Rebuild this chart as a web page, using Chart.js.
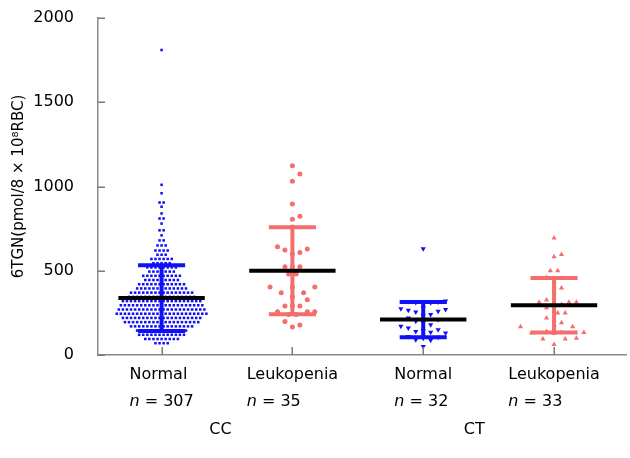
<!DOCTYPE html>
<html>
<head>
<meta charset="utf-8">
<script src="https://cdn.jsdelivr.net/npm/chart.js@4/dist/chart.umd.min.js"></script>
<style>
  html, body { margin: 0; padding: 0; background: #fff; }
  #wrap { width: 630px; height: 458px; }
</style>
</head>
<body>
<div id="wrap"><canvas id="chart"></canvas></div>
<script>
const groups = ['Normal', 'Leukopenia', 'Normal', 'Leukopenia'];
const nLabels = [307, 35, 32, 33];
const genotypes = ['CC', 'CT'];
const genotypePos = [1.45, 3.39];
const yTicks = [0, 500, 1000, 1500, 2000];

const means = [338, 500, 210, 295];
const sds = [195, 258, 105, 162];

// CC normal read as rows of the swarm: [value, number of dots]
const ccNormalRows = [
  [70, 4], [95, 9], [120, 12], [145, 13], [170, 16], [195, 19], [220, 20],
  [245, 23], [270, 22], [295, 21], [320, 20], [345, 17], [370, 16], [395, 13],
  [420, 12], [445, 9], [470, 10], [495, 7], [520, 8], [545, 5], [570, 6],
  [595, 3], [620, 4], [650, 3], [680, 2], [710, 1], [740, 2], [780, 1],
  [810, 2], [840, 1], [880, 1], [905, 2], [960, 1], [1010, 1], [1810, 1]
];
const ccLeuk = [1123, 1074, 1031, 896, 823, 805, 760, 643, 629, 623, 609, 601,
  524, 524, 524, 481, 481, 404, 404, 404, 370, 370, 346, 328, 291, 291, 291,
  257, 257, 257, 240, 240, 199, 178, 166];
const ctNormal = [630, 320, 318, 315, 312, 310, 280, 275, 270, 265, 260, 255,
  240, 235, 220, 210, 200, 190, 180, 170, 160, 150, 145, 140, 135, 130, 110,
  105, 100, 90, 88, 50];
const ctLeuk = [694, 597, 583, 500, 500, 460, 455, 433, 397, 376, 326, 313,
  313, 313, 300, 290, 280, 249, 249, 220, 192, 178, 168, 168, 140, 135, 133,
  130, 128, 100, 95, 95, 63];

const blue = '#1010f8';
const pink = '#f56e6e';
const colors = [blue, pink, blue, pink];

const ccNormal = ccNormalRows.flatMap(([v, n]) => Array(n).fill(v));

// approximate pixels per unit, used only to spread the dots sideways
const PX_X = 131.7, PX_Y = 0.1685;

function swarm(values, center, d) {
  const placed = [];
  const same = {};
  values.forEach(v => { same[v] = (same[v] || 0) + 1; });
  return values.slice().sort((a, b) => a - b).map(v => {
    const py = v * PX_Y;
    const even = same[v] % 2 === 0;
    let px = 0;
    for (let i = 0; i < 600; i++) {
      const k = even ? (2 * Math.floor(i / 2) + 1) : (i === 0 ? 0 : Math.ceil(i / 2) * 2);
      const sign = even ? (i % 2 ? -1 : 1) : (i % 2 ? 1 : -1);
      const off = sign * k * d / 2;
      if (placed.every(p => (p[0] - off) ** 2 + (p[1] - py) ** 2 >= d * d - 0.01)) { px = off; break; }
    }
    placed.push([px, py]);
    return { x: center + px / PX_X, y: v };
  });
}

const pointSets = [
  { data: swarm(ccNormal, 1, 4.1), style: 'rect', radius: 1.8, rot: 0 },
  { data: swarm(ccLeuk, 2, 7.5), style: 'circle', radius: 2.5, rot: 0 },
  { data: swarm(ctNormal, 3, 7.5), style: 'triangle', radius: 3, rot: 180 },
  { data: swarm(ctLeuk, 4, 7.5), style: 'triangle', radius: 3, rot: 0 }
];

const meanHalf = 0.33, capHalf = 0.18;
const datasets = [];

means.forEach((m, i) => {
  const c = i + 1;
  datasets.push({
    data: [{ x: c - meanHalf, y: m }, { x: c + meanHalf, y: m }],
    showLine: true, borderColor: '#000', borderWidth: 4, pointRadius: 0, order: 0
  });
  const s = sds[i];
  datasets.push({
    data: [
      { x: c - capHalf, y: m + s }, { x: c + capHalf, y: m + s }, { x: c, y: null },
      { x: c, y: m + s }, { x: c, y: m - s }, { x: c, y: null },
      { x: c - capHalf, y: m - s }, { x: c + capHalf, y: m - s }
    ],
    showLine: true, spanGaps: false, borderColor: colors[i], borderWidth: 4,
    pointRadius: 0, order: 1
  });
});

pointSets.forEach((p, i) => {
  datasets.push({
    data: p.data, pointStyle: p.style, pointRadius: p.radius, pointRotation: p.rot,
    backgroundColor: colors[i], borderColor: colors[i], borderWidth: 0, order: 2
  });
});

const FONT = '"DejaVu Sans", Verdana, sans-serif';

// inward tick marks and the two-line category labels
const axisDecor = {
  id: 'axisDecor',
  afterDraw(chart) {
    const ctx = chart.ctx, xs = chart.scales.x, ys = chart.scales.y;
    const { left, bottom } = chart.chartArea;
    ctx.save();
    ctx.strokeStyle = '#7a7a7a';
    ctx.lineWidth = 1.5;
    ctx.beginPath();
    yTicks.forEach(v => {
      const y = Math.round(ys.getPixelForValue(v)) + 0.25;
      ctx.moveTo(left, y); ctx.lineTo(left + 7, y);
    });
    groups.forEach((g, i) => {
      const x = Math.round(xs.getPixelForValue(i + 1)) + 0.25;
      ctx.moveTo(x, bottom); ctx.lineTo(x, bottom - 8);
    });
    ctx.stroke();

    ctx.fillStyle = '#000';
    ctx.textBaseline = 'middle';
    ctx.textAlign = 'left';
    groups.forEach((g, i) => {
      const cx = xs.getPixelForValue(i + 1);
      ctx.font = '16px ' + FONT;
      const w1 = ctx.measureText(g).width;
      const rest = ' = ' + nLabels[i];
      const wr = ctx.measureText(rest).width;
      ctx.font = 'italic 16px ' + FONT;
      const wn = ctx.measureText('n').width;
      const x0 = cx - Math.max(w1, wn + wr) / 2;
      ctx.fillText('n', x0, bottom + 47);
      ctx.font = '16px ' + FONT;
      ctx.fillText(g, x0, bottom + 20);
      ctx.fillText(rest, x0 + wn, bottom + 47);
    });
    ctx.textAlign = 'center';
    genotypes.forEach((g, i) => {
      ctx.fillText(g, xs.getPixelForValue(genotypePos[i]), bottom + 75);
    });
    ctx.restore();
  }
};

new Chart(document.getElementById('chart'), {
  type: 'scatter',
  data: { datasets },
  plugins: [axisDecor],
  options: {
    responsive: true,
    maintainAspectRatio: false,
    animation: false,
    layout: { padding: { top: 18, right: 0, left: 0, bottom: 0 } },
    plugins: { legend: { display: false }, tooltip: { enabled: false } },
    scales: {
      x: {
        type: 'linear', min: 0.514, max: 4.55,
        afterBuildTicks: s => { s.ticks = [1, 2, 3, 4].map(v => ({ value: v })); },
        afterFit: s => { s.height = 103; s.paddingLeft = 0; s.paddingRight = 0; },
        ticks: { display: false },
        grid: { display: false },
        border: { display: true, color: '#8a8a8a', width: 1.5 }
      },
      y: {
        min: 0, max: 2000,
        afterBuildTicks: s => { s.ticks = yTicks.map(v => ({ value: v })); },
        afterFit: s => { s.width = 98; s.paddingTop = 0; s.paddingBottom = 0; },
        ticks: { color: '#000', font: { family: FONT, size: 16 }, padding: 16, callback: v => String(v) },
        grid: { display: false },
        border: { display: true, color: '#8a8a8a', width: 1.5 },
        title: {
          display: true, text: '6TGN(pmol/8 \u00d7 10\u2078RBC)', color: '#000',
          font: { family: FONT, size: 15 }, padding: { top: 10, bottom: 0 }
        }
      }
    }
  }
});
</script>
</body>
</html>
